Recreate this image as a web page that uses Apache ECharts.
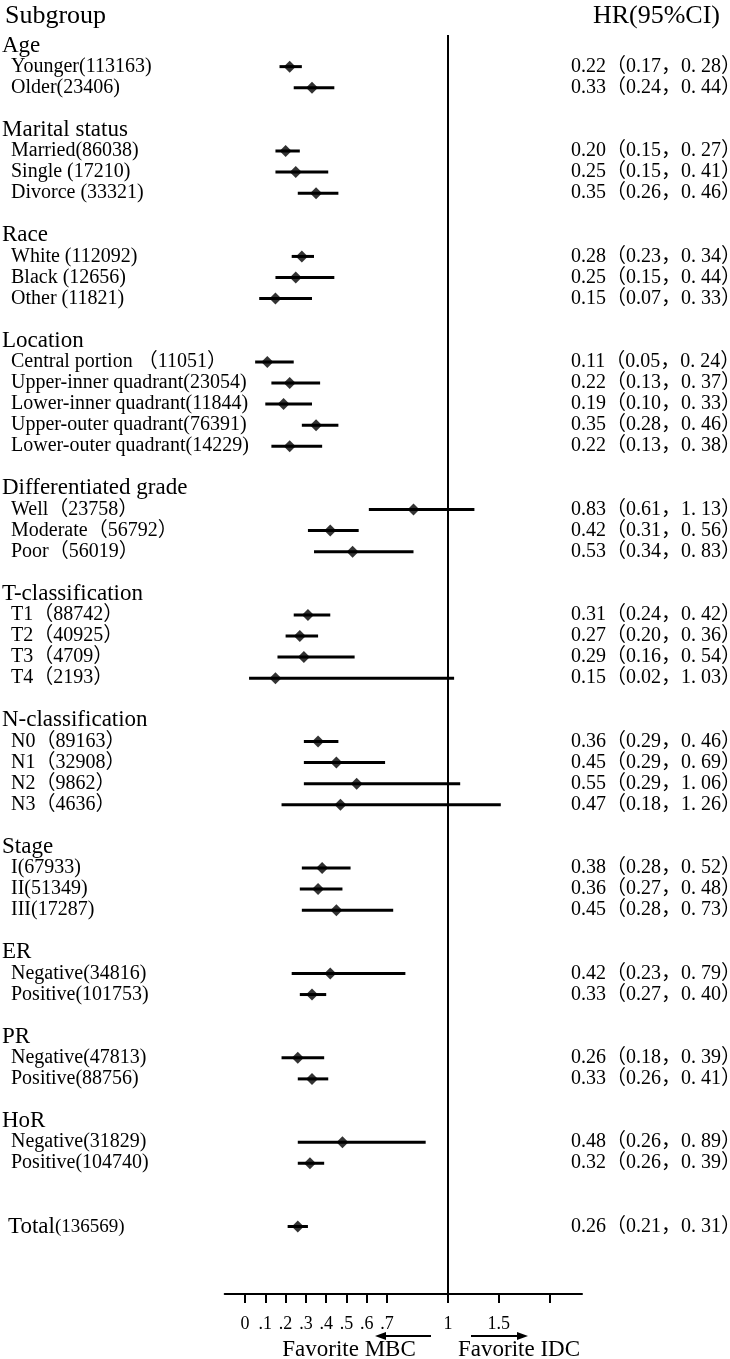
<!DOCTYPE html>
<html>
<head>
<meta charset="utf-8">
<script src="https://cdn.jsdelivr.net/npm/echarts@6/dist/echarts.min.js"></script>
<style>
  html, body { margin: 0; padding: 0; background: #fff; }
  #chart { width: 730px; height: 1359px; }
</style>
</head>
<body>
<div id="chart"></div>
<script>
// group headers and how many subgroups sit under each
const groupNames = ['Age', 'Marital status', 'Race', 'Location', 'Differentiated grade',
  'T-classification', 'N-classification', 'Stage', 'ER', 'PR', 'HoR']
const groupSizes = [2, 3, 3, 5, 3, 4, 4, 3, 2, 2, 2]

const subgroups = [
  'Younger(113163)', 'Older(23406)',
  'Married(86038)', 'Single (17210)', 'Divorce (33321)',
  'White (112092)', 'Black (12656)', 'Other (11821)',
  'Central portion （11051）', 'Upper-inner quadrant(23054)', 'Lower-inner quadrant(11844)',
  'Upper-outer quadrant(76391)', 'Lower-outer quadrant(14229)',
  'Well（23758）', 'Moderate（56792）', 'Poor（56019）',
  'T1（88742）', 'T2（40925）', 'T3（4709）', 'T4（2193）',
  'N0（89163）', 'N1（32908）', 'N2（9862）', 'N3（4636）',
  'I(67933)', 'II(51349)', 'III(17287)',
  'Negative(34816)', 'Positive(101753)',
  'Negative(47813)', 'Positive(88756)',
  'Negative(31829)', 'Positive(104740)'
]
const hr = [0.22, 0.33, 0.20, 0.25, 0.35, 0.28, 0.25, 0.15, 0.11, 0.22, 0.19, 0.35, 0.22,
  0.83, 0.42, 0.53, 0.31, 0.27, 0.29, 0.15, 0.36, 0.45, 0.55, 0.47, 0.38, 0.36, 0.45,
  0.42, 0.33, 0.26, 0.33, 0.48, 0.32]
const lower = [0.17, 0.24, 0.15, 0.15, 0.26, 0.23, 0.15, 0.07, 0.05, 0.13, 0.10, 0.28, 0.13,
  0.61, 0.31, 0.34, 0.24, 0.20, 0.16, 0.02, 0.29, 0.29, 0.29, 0.18, 0.28, 0.27, 0.28,
  0.23, 0.27, 0.18, 0.26, 0.26, 0.26]
const upper = [0.28, 0.44, 0.27, 0.41, 0.46, 0.34, 0.44, 0.33, 0.24, 0.37, 0.33, 0.46, 0.38,
  1.13, 0.56, 0.83, 0.42, 0.36, 0.54, 1.03, 0.46, 0.69, 1.06, 1.26, 0.52, 0.48, 0.73,
  0.79, 0.40, 0.39, 0.41, 0.89, 0.39]

const totalName = 'Total'
const totalN = '(136569)'
const totalHR = [0.26, 0.21, 0.31] // hr, lower, upper

// x axis ticks / labels (the source labels the 1.25 tick as "1.5")
const tickValues = [0, 0.1, 0.2, 0.3, 0.4, 0.5, 0.6, 0.7, 1, 1.25, 1.5]
const labelValues = [0, 0.1, 0.2, 0.3, 0.4, 0.5, 0.6, 0.7, 1, 1.25]
const labelTexts = ['0', '.1', '.2', '.3', '.4', '.5', '.6', '.7', '1', '1.5']

const serif = '"Liberation Serif", "Noto Sans CJK SC"'
const yMin = -0.5
const yMax = 59.2

// build rows: header, items, blank line
const leftText = {}
const rightText = {}
const points = []
const fmt = (v) => v.toFixed(2)
const ciText = (h, l, u) => fmt(h) + '（' + fmt(l) + '，' + fmt(u).replace('.', '. ') + '）'

let row = 0
let idx = 0
groupNames.forEach((g, gi) => {
  leftText[row] = '{g|' + g + '}'
  row++
  for (let k = 0; k < groupSizes[gi]; k++) {
    leftText[row] = '{i|' + subgroups[idx] + '}'
    rightText[row] = ciText(hr[idx], lower[idx], upper[idx])
    points.push([hr[idx], row, lower[idx], upper[idx]])
    row++
    idx++
  }
  row++
})
row++
leftText[row] = '{tb|' + totalName + '}{ts|' + totalN + '}'
rightText[row] = ciText(totalHR[0], totalHR[1], totalHR[2])
points.push([totalHR[0], row, totalHR[1], totalHR[2]])

// leading dummy value at the axis min so the min-label overlap check never hides "Age"
const labelRows = [yMin].concat(Object.keys(leftText).map(Number))
const ciRows = Object.keys(rightText).map(Number)

const chart = echarts.init(document.getElementById('chart'), null, { renderer: 'canvas' })

chart.setOption({
  backgroundColor: '#fff',
  animation: false,
  title: [
    { text: 'Subgroup', left: 0, top: -2, textStyle: { fontFamily: serif, fontSize: 26, fontWeight: 'normal', color: '#000' } },
    { text: 'HR(95%CI)', right: 5, top: -2, textStyle: { fontFamily: serif, fontSize: 26, fontWeight: 'normal', color: '#000' } }
  ],
  grid: { left: 224.7, right: 148, top: 35, bottom: 65, containLabel: false, outerBoundsMode: 'none' },
  xAxis: {
    type: 'value',
    position: 'bottom',
    min: -0.1,
    max: 1.66,
    splitLine: { show: false },
    axisLine: { show: true, onZero: false, lineStyle: { color: '#000', width: 2 } },
    axisTick: { show: true, customValues: tickValues, length: 9, lineStyle: { color: '#000', width: 2 } },
    axisLabel: {
      customValues: labelValues,
      margin: 21,
      color: '#000',
      fontFamily: serif,
      fontSize: 18,
      formatter: (v) => {
        const i = labelValues.findIndex((x) => Math.abs(x - v) < 1e-6)
        return i >= 0 ? labelTexts[i] : ''
      }
    }
  },
  yAxis: [
    {
      type: 'value',
      inverse: true,
      min: yMin,
      max: yMax,
      position: 'left',
      splitLine: { show: false },
      axisLine: { show: false, onZero: false },
      axisTick: { show: false },
      axisLabel: {
        customValues: labelRows,
        showMinLabel: false,
        showMaxLabel: true,
        align: 'left',
        margin: 222.7,
        formatter: (v) => leftText[Math.round(v)] || '',
        rich: {
          g: { fontFamily: serif, fontSize: 23, color: '#000' },
          i: { fontFamily: serif, fontSize: 20, color: '#000', padding: [0, 0, 0, 9] },
          tb: { fontFamily: serif, fontSize: 23, color: '#000', padding: [0, 0, 0, 6] },
          ts: { fontFamily: serif, fontSize: 19, color: '#000' }
        }
      }
    },
    {
      type: 'value',
      inverse: true,
      min: yMin,
      max: yMax,
      position: 'right',
      splitLine: { show: false },
      axisLine: { show: false, onZero: false },
      axisTick: { show: false },
      axisLabel: {
        customValues: ciRows,
        showMinLabel: true,
        showMaxLabel: true,
        align: 'left',
        margin: -11,
        color: '#000',
        fontFamily: serif,
        fontSize: 20,
        formatter: (v) => rightText[Math.round(v)] || ''
      }
    }
  ],
  series: [
    {
      type: 'custom',
      name: 'CI',
      silent: true,
      data: points,
      encode: { x: [2, 3], y: 1 },
      renderItem: (params, api) => {
        const a = api.coord([api.value(2), api.value(1)])
        const b = api.coord([api.value(3), api.value(1)])
        return {
          type: 'line',
          shape: { x1: a[0], y1: a[1], x2: b[0], y2: b[1] },
          style: { stroke: '#000', lineWidth: 3 }
        }
      },
      markLine: {
        silent: true,
        symbol: ['none', 'none'],
        label: { show: false },
        lineStyle: { color: '#000', width: 2, type: 'solid' },
        data: [{ xAxis: 1 }]
      }
    },
    {
      type: 'scatter',
      name: 'HR',
      silent: true,
      symbol: 'diamond',
      symbolSize: 12,
      itemStyle: { color: '#000' },
      data: points.map((p) => [p[0], p[1]])
    }
  ],
  graphic: [
    { type: 'line', shape: { x1: 385, y1: 1336, x2: 431, y2: 1336 }, style: { stroke: '#000', lineWidth: 2 } },
    { type: 'polygon', shape: { points: [[375, 1336], [386, 1332], [386, 1340]] }, style: { fill: '#000' } },
    { type: 'line', shape: { x1: 471, y1: 1336, x2: 518, y2: 1336 }, style: { stroke: '#000', lineWidth: 2 } },
    { type: 'polygon', shape: { points: [[528, 1336], [517, 1332], [517, 1340]] }, style: { fill: '#000' } },
    { type: 'text', x: 349, y: 1350, style: { text: 'Favorite MBC', font: '23px ' + serif, fill: '#000', align: 'center', verticalAlign: 'middle' } },
    { type: 'text', x: 519, y: 1350, style: { text: 'Favorite IDC', font: '23px ' + serif, fill: '#000', align: 'center', verticalAlign: 'middle' } }
  ]
})
</script>
</body>
</html>
